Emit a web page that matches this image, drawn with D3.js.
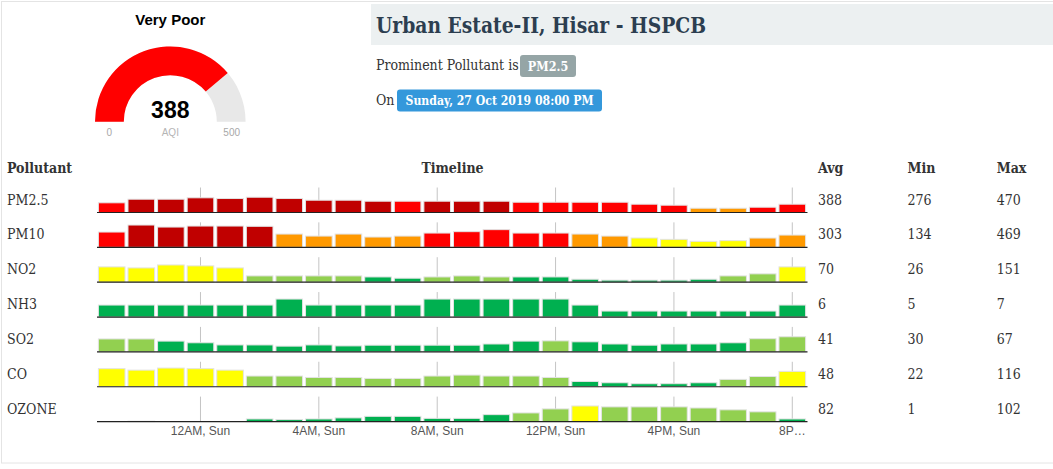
<!DOCTYPE html>
<html>
<head>
<meta charset="utf-8">
<script src="https://cdn.jsdelivr.net/npm/d3@7"></script>
<style>
  html, body { margin: 0; padding: 0; background: #fff; }
  svg { display: block; }
  .serif { font-family: 'DejaVu Serif Condensed', 'DejaVu Serif', serif; font-stretch: condensed; }
  .sans { font-family: 'Liberation Sans', Arial, sans-serif; }
</style>
</head>
<body>
<svg id="chart" width="1053" height="469"></svg>
<script>
// ---------------- DATA ----------------
const stationName = "Urban Estate-II, Hisar - HSPCB";
const prominentPollutant = "PM2.5";
const timestampLabel = "Sunday, 27 Oct 2019 08:00 PM";
const aqiValue = 388;
const aqiMax = 500;
const aqiCategory = "Very Poor";

const pollutants = ["PM2.5", "PM10", "NO2", "NH3", "SO2", "CO", "OZONE"];
const avgValues = [388, 303, 70, 6, 41, 48, 82];
const minValues = [276, 134, 26, 5, 30, 22, 1];
const maxValues = [470, 469, 151, 7, 67, 116, 102];

// hourly readings, 24 hours from 9PM Sat to 8PM Sun
const hours = d3.range(24);
const tickHours = [3, 7, 11, 15, 19, 23];
const tickLabels = ["12AM, Sun", "4AM, Sun", "8AM, Sun", "12PM, Sun", "4PM, Sun", "8P\u2026"];

const pm25Values  = [299,410,410,453,431,471,431,379,379,348,348,348,348,348,317,317,317,317,256,225,132,132,163,256];
const pm10Values  = [319,465,423,444,444,438,277,235,277,215,235,298,327,369,298,298,277,235,195,167,125,140,194,256];
const no2Values   = [134,125,151,143,125,55,55,55,55,46,35,46,55,46,46,46,26,18,18,18,26,55,73,134];
const nh3Values   = [6,6,6,6,6,6,7,6,6,6,6,7,7,7,7,7,6,5,5,5,5,5,5,6];
const so2Values   = [54,54,45,38,29,29,24,29,25,28,28,28,28,33,45,46,42,33,28,33,33,38,55,63];
const coValues    = [113,104,117,113,104,67,67,58,58,52,52,67,73,67,67,58,33,25,19,19,25,46,64,96];
const ozoneValues = [1,3,null,null,null,17,13,17,24,34,34,21,21,45,56,82,101,95,95,95,88,76,63,17];

// AQI category of each hourly bar (0 Good .. 5 Severe)
const pm25Cats  = [4,5,5,5,5,5,5,5,5,5,4,5,5,5,4,4,4,4,4,4,3,3,4,4];
const pm10Cats  = [4,5,5,5,5,5,3,3,3,3,3,4,4,4,4,4,3,3,2,2,2,2,3,3];
const no2Cats   = [2,2,2,2,2,1,1,1,1,0,0,1,1,1,0,0,0,0,0,0,0,1,1,2];
const nh3Cats   = [0,0,0,0,0,0,0,0,0,0,0,0,0,0,0,0,0,0,0,0,0,0,0,0];
const so2Cats   = [1,1,0,0,0,0,0,0,0,0,0,0,0,0,0,1,0,0,0,0,0,0,1,1];
const coCats    = [2,2,2,2,2,1,1,1,1,1,1,1,1,1,1,1,0,0,0,0,0,1,1,2];
const ozoneCats = [0,0,0,0,0,0,0,0,0,0,0,0,0,0,1,1,2,1,1,1,1,1,1,0];

const rowValues = [pm25Values, pm10Values, no2Values, nh3Values, so2Values, coValues, ozoneValues];
const rowCats = [pm25Cats, pm10Cats, no2Cats, nh3Cats, so2Cats, coCats, ozoneCats];
const rowYMin = [0, 0, 0, 4, 0, 0, 0];
const rowYMax = [740, 500, 210, 8, 100, 150, 155];

const categoryNames = ["Good", "Satisfactory", "Moderate", "Poor", "Very Poor", "Severe"];
const categoryColors = ["#00b050", "#92d050", "#ffff00", "#ff9900", "#ff0000", "#c00000"];

// ---------------- DRAW ----------------
const svg = d3.select("#chart");

// card border
svg.append("rect").attr("x", 1.5).attr("y", 1.5).attr("width", 1100).attr("height", 461.5)
  .attr("fill", "#fff").attr("stroke", "#e4e4e4");

// ---- gauge ----
const gcx = 170.3, gcy = 121.7;
const gaugeAngle = d3.scaleLinear().domain([0, aqiMax]).range([-Math.PI / 2, Math.PI / 2]);
const arc = d3.arc().innerRadius(46.5).outerRadius(75.3);
const gauge = svg.append("g").attr("transform", `translate(${gcx},${gcy})`);
gauge.append("path")
  .attr("d", arc({ startAngle: gaugeAngle(0), endAngle: gaugeAngle(aqiMax) }))
  .attr("fill", "#e8e8e8");
gauge.append("path")
  .attr("d", arc({ startAngle: gaugeAngle(0), endAngle: gaugeAngle(aqiValue) }))
  .attr("fill", categoryColors[categoryNames.indexOf(aqiCategory)]);
gauge.append("text").attr("class", "sans").attr("x", 0).attr("y", -3.7)
  .attr("text-anchor", "middle").attr("font-size", 23).attr("font-weight", "bold")
  .attr("fill", "#000").text(aqiValue);
gauge.append("text").attr("class", "sans").attr("x", 0).attr("y", 14.3)
  .attr("text-anchor", "middle").attr("font-size", 10).attr("fill", "#b5b5b5").text("AQI");
gauge.append("text").attr("class", "sans").attr("x", -61).attr("y", 14.3)
  .attr("text-anchor", "middle").attr("font-size", 10).attr("fill", "#a8a8a8").text(gaugeAngle.domain()[0]);
gauge.append("text").attr("class", "sans").attr("x", 61.4).attr("y", 14.3)
  .attr("text-anchor", "middle").attr("font-size", 10).attr("fill", "#a8a8a8").text(gaugeAngle.domain()[1]);
svg.append("text").attr("class", "sans").attr("x", 170.3).attr("y", 25)
  .attr("text-anchor", "middle").attr("font-size", 15).attr("font-weight", "bold")
  .attr("fill", "#000").text(aqiCategory);

// ---- header ----
svg.append("rect").attr("x", 371).attr("y", 4).attr("width", 690).attr("height", 41).attr("fill", "#ecf0f1");
svg.append("text").attr("class", "serif").attr("x", 376).attr("y", 33)
  .attr("font-size", 23).attr("font-weight", "bold").attr("fill", "#2c3e50")
  .attr("textLength", 330).attr("lengthAdjust", "spacingAndGlyphs").text(stationName);

svg.append("text").attr("class", "serif").attr("x", 376).attr("y", 70)
  .attr("font-size", 14).attr("fill", "#333").text("Prominent Pollutant is");
svg.append("rect").attr("x", 520).attr("y", 55).attr("width", 56).attr("height", 22).attr("rx", 3)
  .attr("fill", "#95a5a6");
svg.append("text").attr("class", "serif").attr("x", 548).attr("y", 70.5)
  .attr("text-anchor", "middle").attr("font-size", 12.5).attr("font-weight", "bold")
  .attr("fill", "#fff").text(prominentPollutant);

svg.append("text").attr("class", "serif").attr("x", 376).attr("y", 105)
  .attr("font-size", 14).attr("fill", "#333").text("On");
svg.append("rect").attr("x", 397).attr("y", 89.5).attr("width", 205).attr("height", 22).attr("rx", 3)
  .attr("fill", "#3498db");
svg.append("text").attr("class", "serif").attr("x", 499.5).attr("y", 105)
  .attr("text-anchor", "middle").attr("font-size", 12.5).attr("font-weight", "bold")
  .attr("fill", "#fff").attr("textLength", 188).attr("lengthAdjust", "spacingAndGlyphs")
  .text(timestampLabel);

// ---- table headers ----
const colX = { pollutant: 7, avg: 818, min: 907.5, max: 996.7 };
const headY = 173;
const headers = [
  { t: "Pollutant", x: colX.pollutant, a: "start" },
  { t: "Timeline", x: 452.5, a: "middle" },
  { t: "Avg", x: colX.avg, a: "start" },
  { t: "Min", x: colX.min, a: "start" },
  { t: "Max", x: colX.max, a: "start" }
];
svg.selectAll("text.head").data(headers).join("text")
  .attr("class", "head serif").attr("x", d => d.x).attr("y", headY)
  .attr("text-anchor", d => d.a).attr("font-size", 14).attr("font-weight", "bold")
  .attr("fill", "#333").text(d => d.t);

// ---- rows ----
const x = d3.scaleBand().domain(hours).range([97.5, 806.5]).paddingInner(0.1).paddingOuter(0.03);
const base0 = 212.5, rowPitch = 34.85, barH = 24, tickH = 25;

pollutants.forEach((name, i) => {
  const by = base0 + i * rowPitch;
  const y = d3.scaleLinear().domain([rowYMin[i], rowYMax[i]]).range([by, by - barH]);
  const g = svg.append("g");

  // grid ticks behind bars
  const tickAxis = d3.axisTop(x).tickValues(tickHours).tickSize(tickH).tickFormat("");
  const ga = g.append("g").attr("transform", `translate(0,${by})`).call(tickAxis);
  ga.select(".domain").remove();
  ga.selectAll(".tick line").attr("stroke", "#c4c4c4");

  const data = rowValues[i].map((v, h) => ({ h, v, c: rowCats[i][h] })).filter(d => d.v != null);
  g.selectAll("rect").data(data).join("rect")
    .attr("x", d => x(d.h))
    .attr("width", x.bandwidth())
    .attr("y", d => y(d.v))
    .attr("height", d => by - y(d.v))
    .attr("fill", d => categoryColors[d.c])
    .attr("stroke", "#e3e3e3").attr("stroke-width", 1);

  g.append("line").attr("x1", 97).attr("x2", 807.5).attr("y1", by).attr("y2", by)
    .attr("stroke", "#222").attr("stroke-width", 1.2);

  const ty = by - 8;
  g.append("text").attr("class", "serif").attr("x", colX.pollutant).attr("y", ty)
    .attr("font-size", 14).attr("fill", "#333").text(name);
  g.append("text").attr("class", "serif").attr("x", colX.avg).attr("y", ty)
    .attr("font-size", 14).attr("fill", "#333").text(avgValues[i]);
  g.append("text").attr("class", "serif").attr("x", colX.min).attr("y", ty)
    .attr("font-size", 14).attr("fill", "#333").text(minValues[i]);
  g.append("text").attr("class", "serif").attr("x", colX.max).attr("y", ty)
    .attr("font-size", 14).attr("fill", "#333").text(maxValues[i]);

  if (i === pollutants.length - 1) {
    const labelAxis = d3.axisBottom(x).tickValues(tickHours).tickSize(0).tickPadding(5)
      .tickFormat(h => tickLabels[tickHours.indexOf(h)]);
    const gl = g.append("g").attr("transform", `translate(0,${by})`).call(labelAxis);
    gl.select(".domain").remove();
    gl.selectAll("text").attr("class", "sans").attr("font-size", 12).attr("fill", "#555")
      .style("font-family", "'Liberation Sans', Arial, sans-serif");
  }
});
</script>
</body>
</html>
